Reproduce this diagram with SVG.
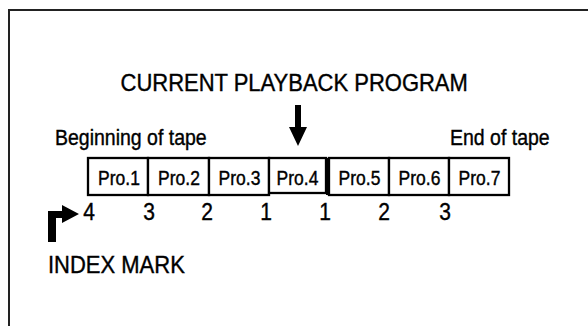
<svg xmlns="http://www.w3.org/2000/svg" width="588" height="326" viewBox="0 0 588 326">
<style>
text{font-family:"Liberation Sans",Arial,Helvetica,sans-serif;fill:#000;stroke:#000;stroke-width:0.35}
.box{fill:#fff;stroke:#000;stroke-width:2.3}
.pro{font-size:17.5px;text-anchor:middle}
.num{font-size:21px;text-anchor:middle}
.lbl{font-size:19.5px}
.big{font-size:22px}
</style>
<rect width="588" height="326" fill="#fff"/>
<path d="M9,326 V10 H588" fill="none" stroke="#222" stroke-width="2"/>
<text class="big" transform="translate(120.5,91) scale(1,1.1)">CURRENT PLAYBACK PROGRAM</text>
<text class="lbl" transform="translate(55,145) scale(1,1.1)">Beginning of tape</text>
<text class="lbl" transform="translate(450,145) scale(1,1.1)">End of tape</text>
<g id="connectors">
<path d="M295,105 H301 V127 H307 L298,146 L289,127 H295 Z" fill="#000"/>
<path d="M48,242 V211 H62 V205 L79,214 L62,223 V218 H56 V242 Z" fill="#000"/>
</g>
<g id="pro1"><rect class="box" x="88" y="158" width="60" height="37"/><text class="pro" transform="translate(119,185) scale(1,1.12)">Pro.1</text></g>
<g id="pro2"><rect class="box" x="148" y="158" width="61" height="37"/><text class="pro" transform="translate(179,185) scale(1,1.12)">Pro.2</text></g>
<g id="pro3"><rect class="box" x="209" y="158" width="60" height="37"/><text class="pro" transform="translate(239.5,185) scale(1,1.12)">Pro.3</text></g>
<g id="pro4"><rect class="box" x="269" y="158" width="57" height="35"/><text class="pro" transform="translate(297.5,185) scale(1,1.12)">Pro.4</text></g>
<g id="pro5"><rect class="box" x="329" y="158" width="60" height="37"/><rect x="326" y="158" width="3" height="37" fill="#000"/><text class="pro" transform="translate(359.5,185) scale(1,1.12)">Pro.5</text></g>
<g id="pro6"><rect class="box" x="389" y="158" width="60" height="37"/><text class="pro" transform="translate(419.5,185) scale(1,1.12)">Pro.6</text></g>
<g id="pro7"><rect class="box" x="449" y="158" width="60" height="37"/><text class="pro" transform="translate(479.5,185) scale(1,1.12)">Pro.7</text></g>
<g id="numbers">
<text class="num" transform="translate(89,220) scale(1,1.1)">4</text>
<text class="num" transform="translate(149,220) scale(1,1.1)">3</text>
<text class="num" transform="translate(207,220) scale(1,1.1)">2</text>
<text class="num" transform="translate(266,220) scale(1,1.1)">1</text>
<text class="num" transform="translate(325,220) scale(1,1.1)">1</text>
<text class="num" transform="translate(384,220) scale(1,1.1)">2</text>
<text class="num" transform="translate(445,220) scale(1,1.1)">3</text>
</g>
<text class="big" transform="translate(48,273) scale(1,1.1)">INDEX MARK</text>
</svg>
